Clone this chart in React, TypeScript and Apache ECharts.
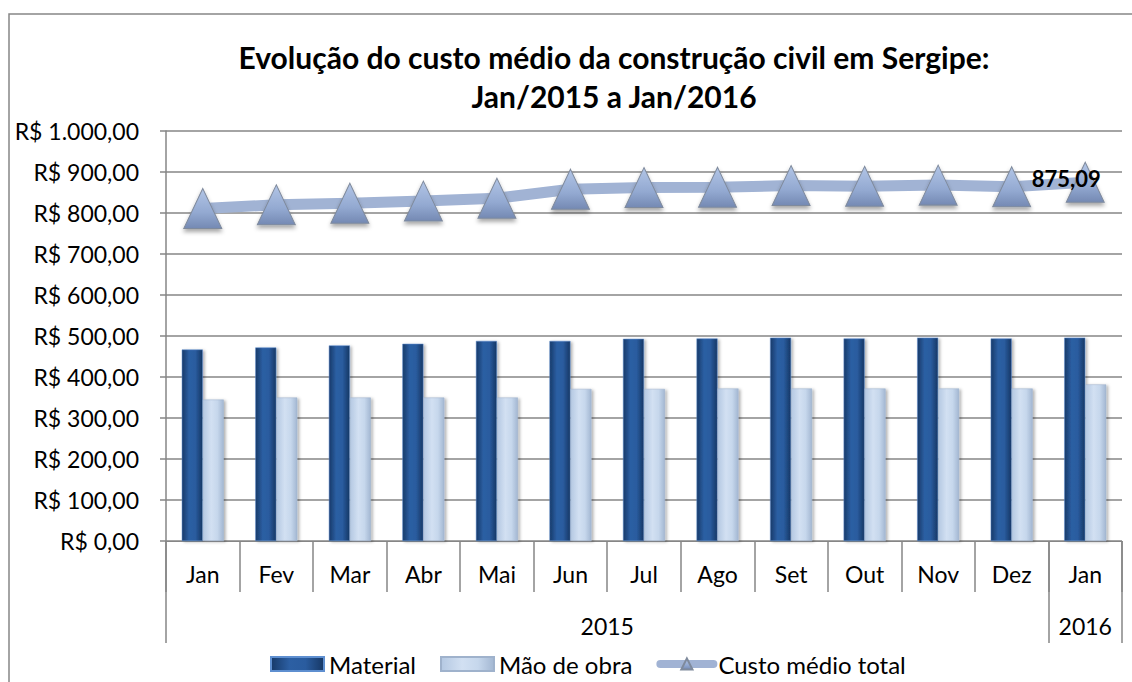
import React, { useEffect, useRef } from "react";
import * as echarts from "echarts";

const months = ["Jan", "Fev", "Mar", "Abr", "Mai", "Jun", "Jul", "Ago", "Set", "Out", "Nov", "Dez", "Jan"];
const years = ["2015", "2016"];
const yearSpans = [12, 1];
const material = [467, 472, 477, 481, 488, 488, 493, 494, 496, 494, 496, 494, 496];
const maoDeObra = [345, 350, 350, 350, 350, 371, 371, 372, 372, 372, 372, 372, 382];
const custoTotal = [811, 820, 824, 829, 836, 858, 862, 863, 867, 865, 868, 864, 875.09];
const yTicks = [0, 100, 200, 300, 400, 500, 600, 700, 800, 900, 1000];
const titleLines = ["Evolução do custo médio da construção civil em Sergipe:", "Jan/2015 a Jan/2016"];

const FONT = "Lato";
const GRAY = "#868686";

function brl(v: number): string {
  const parts = v.toFixed(2).split(".");
  const intPart = parts[0].replace(/\B(?=(\d{3})+(?!\d))/g, ".");
  return intPart + "," + parts[1];
}

export default function App() {
  const ref = useRef<HTMLDivElement>(null);
  useEffect(() => {
    if (!ref.current) return;
    const chart = echarts.init(ref.current, null, { renderer: "svg" });

    const yearBounds: number[] = [0];
    const yearCenters: number[] = [];
    let acc = 0;
    yearSpans.forEach((s) => {
      yearCenters.push(acc + s / 2);
      acc += s;
      yearBounds.push(acc);
    });

    const triGradient = new echarts.graphic.LinearGradient(0, 0, 0, 1, [
      { offset: 0, color: "#B2C5E6" },
      { offset: 0.6, color: "#93A9D1" },
      { offset: 1, color: "#7489B3" },
    ]);

    const option: any = {
      animation: false,
      backgroundColor: "#ffffff",
      textStyle: { fontFamily: FONT },
      title: {
        text: titleLines.join("\n"),
        left: 614,
        top: 37,
        padding: 0,
        textAlign: "center",
        textStyle: { fontFamily: FONT, fontSize: 30, fontWeight: "bold", color: "#000", lineHeight: 39 },
      },
      graphic: [
        {
          type: "rect",
          shape: { x: 9, y: 14, width: 1200, height: 1000 },
          style: { fill: "none", stroke: GRAY, lineWidth: 1.5 },
          silent: true,
        },
      ],
      legend: {
        top: 652,
        left: 270,
        padding: 0,
        itemWidth: 53,
        itemHeight: 14,
        itemGap: 24,
        textStyle: { fontFamily: FONT, fontSize: 24, color: "#000" },
        data: [
          { name: "Material", icon: "rect" },
          { name: "Mão de obra", icon: "rect" },
          { name: "Custo médio total", lineStyle: { width: 8, color: "#A1B3D4", cap: "round" } },
        ],
      },
      grid: { left: 166, right: 10, top: 131, bottom: 141, containLabel: false },
      xAxis: [
        {
          type: "category",
          data: months,
          position: "bottom",
          axisLine: { show: true, lineStyle: { color: GRAY, width: 1 } },
          axisTick: { show: true, interval: 0, length: 51, alignWithLabel: false, lineStyle: { color: GRAY, width: 1.5 } },
          axisLabel: { interval: 0, margin: 21, fontFamily: FONT, fontSize: 23, color: "#000" },
          splitLine: { show: false },
        },
        {
          type: "value",
          min: 0,
          max: months.length,
          position: "bottom",
          axisLine: { show: false },
          splitLine: { show: false },
          axisTick: { show: true, customValues: yearBounds, length: 102, lineStyle: { color: GRAY, width: 1.5 } },
          axisLabel: {
            show: true,
            customValues: yearCenters,
            margin: 73,
            fontFamily: FONT,
            fontSize: 23,
            color: "#000",
            formatter: (v: number) => {
              const i = yearCenters.findIndex((c) => Math.abs(c - v) < 1e-6);
              return i >= 0 ? years[i] : "";
            },
          },
        },
      ],
      yAxis: {
        type: "value",
        min: yTicks[0],
        max: yTicks[yTicks.length - 1],
        interval: yTicks[1] - yTicks[0],
        axisLine: { show: true, lineStyle: { color: GRAY, width: 1.5 } },
        axisTick: { show: true, length: 6, lineStyle: { color: GRAY, width: 1.5 } },
        splitLine: { show: true, lineStyle: { color: GRAY, width: 1.5 } },
        axisLabel: {
          margin: 27,
          fontFamily: FONT,
          fontSize: 23,
          color: "#000",
          formatter: (v: number) => "R$ " + brl(v),
        },
      },
      series: [
        {
          name: "Material",
          type: "bar",
          xAxisIndex: 0,
          data: material,
          barWidth: 21,
          barGap: "0%",
          itemStyle: {
            color: new echarts.graphic.LinearGradient(0, 0, 1, 0, [
              { offset: 0, color: "#173A69" },
              { offset: 0.35, color: "#2C5FA3" },
              { offset: 0.65, color: "#2A5C9F" },
              { offset: 1, color: "#163764" },
            ]),
            borderColor: "#5E8FD0",
            borderWidth: 0.5,
            shadowBlur: 3,
            shadowColor: "rgba(0,0,0,0.3)",
            shadowOffsetX: 2,
            shadowOffsetY: 1,
          },
          z: 2,
        },
        {
          name: "Mão de obra",
          type: "bar",
          xAxisIndex: 0,
          data: maoDeObra,
          barWidth: 21,
          barGap: "0%",
          itemStyle: {
            color: new echarts.graphic.LinearGradient(0, 0, 1, 0, [
              { offset: 0, color: "#B4C8E2" },
              { offset: 0.4, color: "#D2E0F2" },
              { offset: 0.7, color: "#C6D7EC" },
              { offset: 1, color: "#A3B7D2" },
            ]),
            borderColor: "#9FB2CC",
            borderWidth: 0.5,
            shadowBlur: 3,
            shadowColor: "rgba(0,0,0,0.3)",
            shadowOffsetX: 2,
            shadowOffsetY: 1,
          },
          z: 2,
        },
        {
          name: "Custo médio total",
          type: "line",
          xAxisIndex: 0,
          data: custoTotal,
          symbol: "triangle",
          symbolSize: [38, 40],
          lineStyle: { color: "#A1B3D4", width: 11, cap: "round" },
          itemStyle: {
            color: triGradient,
            borderColor: "#7F8A9C",
            borderWidth: 1,
            shadowBlur: 4,
            shadowColor: "rgba(0,0,0,0.35)",
            shadowOffsetY: 3,
          },
          label: {
            show: true,
            position: "inside",
            offset: [-19, -4],
            fontFamily: FONT,
            fontSize: 22,
            fontWeight: "bold",
            color: "#000",
            formatter: (p: any) => (p.dataIndex === custoTotal.length - 1 ? brl(p.value) : ""),
          },
          z: 5,
        },
      ],
    };
    chart.setOption(option);
    return () => chart.dispose();
  }, []);
  return <div ref={ref} style={{ position: "absolute", left: 0, top: 0, width: 1132, height: 682 }} />;
}
